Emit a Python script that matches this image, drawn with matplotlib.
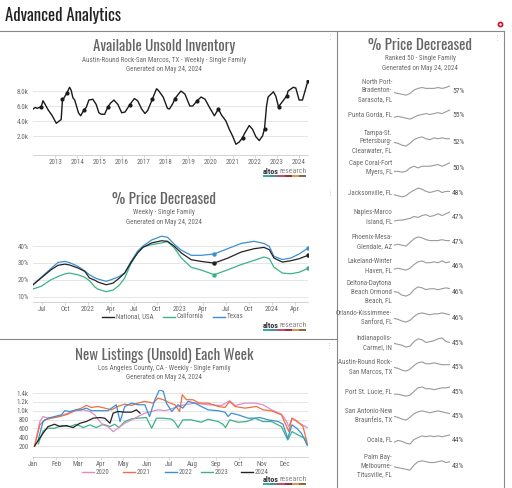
import matplotlib
matplotlib.use("Agg")
from matplotlib import pyplot as plt
from matplotlib.lines import Line2D
from matplotlib.patches import Rectangle

plt.rcParams['font.family'] = ['Roboto Condensed', 'DejaVu Sans']
TITLE_FONT = ['Oswald', 'DejaVu Sans']

# --- Available Unsold Inventory (Austin), thousands
INV_YEAR = [2012.0, 2012.1, 2012.2, 2012.37, 2012.45, 2012.55, 2012.7, 2012.85, 2013.05, 2013.27,
            2013.33, 2013.4, 2013.52, 2013.65, 2013.72, 2013.8, 2013.88, 2014.05, 2014.15, 2014.3,
            2014.4, 2014.52, 2014.7, 2014.85, 2014.97, 2015.08, 2015.23, 2015.38, 2015.5, 2015.65,
            2015.83, 2016.0, 2016.15, 2016.37, 2016.57, 2016.72, 2016.9, 2017.05, 2017.17, 2017.38,
            2017.57, 2017.65, 2017.87, 2018.06, 2018.15, 2018.3, 2018.4, 2018.67, 2018.85, 2019.07,
            2019.2, 2019.4, 2019.58, 2019.76, 2019.96, 2020.18, 2020.36, 2020.5, 2020.7, 2020.85,
            2021.0, 2021.15, 2021.3, 2021.45, 2021.55, 2021.75, 2021.9, 2022.05, 2022.2, 2022.35,
            2022.44, 2022.53, 2022.6, 2022.84, 2022.95, 2023.07, 2023.25, 2023.45, 2023.5, 2023.74,
            2023.85, 2024.0, 2024.15, 2024.4]
INV_K = [5.6, 5.8, 5.7, 5.9, 6.7, 6.2, 5.4, 4.8, 3.7, 4.2,
         6.9, 7.1, 7.7, 8.5, 8.1, 7.1, 6.8, 5.1, 4.7, 5.5,
         5.8, 6.8, 6.9, 6.2, 5.1, 4.9, 4.9, 5.9, 6.4, 6.8,
         6.2, 5.1, 5.2, 6.2, 7.0, 6.7, 5.6, 5.0, 5.4, 6.9,
         8.3, 8.1, 7.2, 5.7, 5.6, 6.3, 7.0, 8.0, 7.6, 6.0,
         6.0, 6.7, 7.2, 6.9, 5.8, 4.7, 5.6, 4.8, 4.0, 2.9,
         2.0, 0.9, 1.2, 1.8, 2.4, 3.4, 2.9, 1.9, 1.4, 2.0,
         3.0, 6.0, 7.2, 7.9, 7.3, 5.9, 6.6, 7.4, 8.0, 8.5,
         8.4, 6.8, 6.8, 9.4]
INV_DOT_YEAR = [2012.37, 2013.33, 2013.52, 2014.3, 2015.38, 2016.37, 2017.38, 2018.4, 2019.4,
                2020.36, 2021.45, 2022.44, 2023.07, 2023.45, 2024.4]
INV_DOT_K = [5.9, 6.9, 7.7, 5.5, 5.9, 6.2, 6.9, 7.0, 6.7, 5.6, 1.8, 3.0, 5.9, 7.4, 9.4]
INV_YEARS = list(range(2013, 2025))

# --- % Price Decreased (months since Jan 2021)
PD_MONTH = [4.83, 5.9, 7.2, 8.1, 9.0, 9.6, 10.7, 11.6, 12.2, 12.9, 13.3, 14.4, 15.3, 16.1, 16.8,
            17.6, 18.5, 19.2, 20.3, 21.6, 22.4, 23.3, 24.2, 25.5, 26.8, 28.5, 30.3, 32.0, 33.7,
            35.0, 35.7, 36.3, 37.4, 38.5, 39.6, 40.75]
PD_NATIONAL = [17.1, 21.1, 26.0, 28.6, 29.3, 28.8, 27.0, 25.0, 21.1, 19.8, 18.7, 17.1, 18.1, 21.0,
               24.0, 30.0, 35.9, 39.2, 41.8, 43.1, 42.8, 39.8, 35.9, 31.9, 30.9, 29.9, 32.9, 36.4,
               38.4, 39.2, 37.8, 32.9, 30.5, 31.3, 32.5, 34.5]
PD_TEXAS = [17.1, 21.5, 26.8, 30.3, 30.9, 30.2, 28.0, 25.2, 23.0, 21.2, 20.5, 19.1, 20.5, 22.0,
            24.0, 30.6, 37.0, 40.0, 43.5, 45.8, 45.2, 41.0, 37.5, 34.5, 34.5, 35.3, 38.5, 41.5,
            42.8, 41.5, 39.8, 33.9, 32.0, 32.9, 35.3, 38.8]
PD_CALIFORNIA = [14.6, 16.2, 20.1, 22.0, 23.5, 24.0, 23.0, 21.5, 19.5, 15.8, 14.5, 13.0, 14.0, 16.8,
                 21.0, 29.4, 36.5, 39.5, 40.8, 41.8, 42.6, 38.8, 32.9, 27.4, 25.8, 23.0, 26.0, 29.0,
                 31.5, 33.5, 32.5, 27.5, 24.0, 23.6, 24.5, 26.8]
PD_TICKS = [6, 9, 12, 15, 18, 21, 24, 27, 30, 33, 36, 39]
PD_TICKLABELS = ["Jul", "Oct", "2022", "Apr", "Jul", "Oct", "2023", "Apr", "Jul", "Oct", "2024", "Apr"]

# --- New Listings LA County (week of year)
NL_2020_WK = [0.3, 1.3, 1.9, 2.85, 4.1, 5.4, 6.6, 8.2, 9.5, 10.8, 11.7, 12.7, 13.3, 14.2, 15.2, 16.1,
              17.4, 18.7, 19.9, 21.2, 22.5, 23.7, 25.0, 26.3, 28.1, 30.7, 33.2, 35.7, 37.3, 38.3,
              40.2, 42.1, 43.6, 45.2, 47.1, 48.1, 48.5, 49.1, 50.0, 50.9, 52.0]
NL_2020 = [200, 754, 868, 830, 850, 890, 944, 1000, 1020, 980, 906, 754, 678, 640, 526, 602,
           716, 792, 868, 944, 982, 1020, 1000, 1043, 1119, 1172, 1134, 1119, 1225, 1119,
           1172, 1172, 1134, 1020, 921, 754, 640, 830, 754, 693, 617]
NL_2021_WK = [0.3, 1.3, 2.2, 3.5, 5.1, 6.6, 8.2, 9.2, 10.1, 11.1, 12.3, 13.6, 14.9, 16.1, 17.4, 18.7,
              19.9, 21.2, 22.8, 23.7, 24.7, 26.0, 26.9, 27.8, 28.3, 29.1, 30.3, 31.6, 33.2, 35.1,
              36.4, 37.3, 38.3, 40.2, 42.4, 43.6, 45.2, 47.1, 48.1, 48.5, 49.1, 50.0, 51.2, 52.0]
NL_2021 = [200, 678, 792, 830, 868, 921, 1020, 1058, 1119, 1073, 1096, 1058, 1020, 1096, 1149, 1119,
           1172, 1210, 1172, 1286, 1248, 1172, 1134, 982, 1362, 1248, 1248, 1172, 1172, 1096,
           1073, 1210, 1096, 1058, 1096, 1020, 997, 906, 640, 526, 830, 769, 640, 260]
NL_2022_WK = [0.9, 1.9, 2.85, 4.1, 5.4, 6.0, 7.0, 8.2, 9.2, 10.1, 11.1, 12.3, 14.2, 15.8, 16.5, 17.4,
              18.7, 19.9, 21.2, 22.1, 23.1, 24.0, 24.7, 25.3, 26.3, 27.5, 28.4, 29.4, 30.7, 31.9,
              33.2, 35.1, 36.4, 37.0, 37.6, 38.9, 40.8, 42.1, 43.0, 44.6, 46.5, 47.4, 48.3, 49.1,
              50.0, 50.9, 52.0]
NL_2022 = [300, 754, 830, 868, 906, 1000, 982, 1020, 1020, 1058, 1000, 1000, 1000, 1134, 754, 1096,
           1172, 1134, 1134, 868, 1248, 1476, 1438, 1172, 982, 1134, 1058, 1210, 1172, 1096,
           1020, 1000, 967, 868, 944, 906, 830, 830, 845, 792, 754, 693, 374, 678,
           602, 488, 222]
NL_2023_WK = [1.0, 1.9, 2.85, 4.1, 5.4, 7.0, 8.2, 9.5, 10.8, 12.0, 13.3, 14.6, 15.5, 16.3, 17.4, 18.7,
              19.9, 21.5, 22.5, 23.4, 24.7, 26.3, 26.9, 27.5, 28.4, 30.0, 31.9, 33.2, 35.1, 36.0,
              36.5, 37.3, 38.9, 40.5, 42.1, 43.6, 45.2, 47.1, 48.3, 49.1, 50.3, 51.5, 52.0]
NL_2023 = [250, 541, 602, 602, 663, 640, 693, 617, 678, 617, 693, 640, 693, 617, 754, 815,
           830, 845, 602, 830, 830, 807, 738, 617, 792, 792, 738, 807, 754, 693,
           617, 792, 738, 754, 830, 754, 754, 640, 336, 526, 450, 374, 222]
NL_2024_WK = [0.3, 1.9, 2.85, 4.1, 5.1, 6.3, 7.6, 8.9, 10.1, 11.4, 12.7, 13.6, 14.6, 15.2, 16.1,
              17.4, 18.7, 19.6, 20.3]
NL_2024 = [200, 488, 640, 693, 640, 663, 617, 716, 754, 830, 845, 830, 716, 944, 982,
           967, 967, 1020, 944]
NL_MONTH_START_DAY = [0, 31, 59, 90, 120, 151, 181, 212, 243, 273, 304, 334]
NL_MONTHS = ["Jan", "Feb", "Mar", "Apr", "May", "Jun", "Jul", "Aug", "Sep", "Oct", "Nov", "Dec"]

# --- Ranked list (right panel)
RANK_NAMES = ["North Port-\nBradenton-\nSarasota, FL", "Punta Gorda, FL",
              "Tampa-St.\nPetersburg-\nClearwater, FL", "Cape Coral-Fort\nMyers, FL",
              "Jacksonville, FL", "Naples-Marco\nIsland, FL", "Phoenix-Mesa-\nGlendale, AZ",
              "Lakeland-Winter\nHaven, FL", "Deltona-Daytona\nBeach Ormond\nBeach, FL",
              "Orlando-Kissimmee-\nSanford, FL", "Indianapolis-\nCarmel, IN",
              "Austin-Round Rock-\nSan Marcos, TX", "Port St. Lucie, FL",
              "San Antonio-New\nBraunfels, TX", "Ocala, FL", "Palm Bay-\nMelbourne-\nTitusville, FL"]
RANK_PCT = [57, 55, 52, 50, 48, 47, 47, 46, 46, 46, 45, 45, 45, 45, 44, 43]
SPARKS = [
    [3, 2, 1, 0, 2, 6, 8, 9, 8, 8, 8, 9, 8, 9, 11],
    [2, 3, 2, 1, 0, 2, 4, 5, 6, 5, 6, 7, 6, 8, 10],
    [4, 3, 1, 0, 3, 7, 9, 10, 8, 7, 9, 8, 9, 8, 8],
    [1, 1, 0, 1, 5, 7, 5, 7, 7, 7, 8, 9, 7, 9, 11],
    [5, 4, 3, 4, 7, 9, 11, 10, 8, 7, 8, 9, 7, 8, 8],
    [0, 1, 1, 2, 3, 5, 4, 6, 7, 5, 6, 8, 6, 8, 10],
    [3, 4, 3, 2, 6, 10, 12, 11, 9, 8, 8, 8, 9, 8, 8],
    [2, 3, 2, 1, 3, 7, 10, 11, 9, 9, 10, 9, 11, 9, 10],
    [6, 5, 2, 1, 3, 8, 11, 10, 8, 9, 9, 8, 9, 10, 9],
    [5, 4, 2, 1, 3, 7, 10, 11, 10, 9, 10, 10, 11, 10, 9],
    [5, 4, 3, 1, 2, 7, 10, 9, 6, 7, 8, 10, 11, 7, 6],
    [5, 4, 2, 1, 3, 7, 10, 11, 9, 9, 10, 9, 8, 8, 8],
    [3, 3, 2, 1, 2, 6, 10, 11, 9, 9, 8, 9, 10, 10, 11],
    [4, 3, 1, 0, 3, 7, 9, 10, 9, 8, 9, 10, 9, 8, 7],
    [3, 5, 4, 2, 1, 6, 8, 10, 9, 10, 9, 10, 9, 10, 11],
    [4, 3, 2, 1, 0, 6, 10, 11, 10, 9, 9, 10, 11, 9, 10],
]
RANK_ROW_Y = [91, 115, 142, 168, 193, 217, 242, 266, 292, 318, 343, 367, 392, 416, 440, 466]

W, H = 512, 488
fig = plt.figure(figsize=(W / 100, H / 100), dpi=100)

GRAY_TXT = "#6a6a6a"
TITLE_C = "#666666"


def fx(x):
    return x / W


def fy(y):
    return 1 - y / H


def add_ax(x0, y0, x1, y1):
    return fig.add_axes([x0 / W, 1 - y1 / H, (x1 - x0) / W, (y1 - y0) / H])


def hline(x0, x1, y, color="#888888", lw=0.8):
    fig.add_artist(Line2D([fx(x0), fx(x1)], [fy(y), fy(y)], color=color, lw=lw))


def vline(x, y0, y1, color="#888888", lw=0.8):
    fig.add_artist(Line2D([fx(x), fx(x)], [fy(y0), fy(y1)], color=color, lw=lw))


def style_ax(ax):
    for s in ["top", "right", "left"]:
        ax.spines[s].set_visible(False)
    ax.spines["bottom"].set_color("#cccccc")
    ax.spines["bottom"].set_linewidth(0.6)
    ax.grid(axis="y", color="#e2e2e2", lw=0.6)
    ax.set_axisbelow(True)
    ax.tick_params(axis="y", length=0, labelsize=5, labelcolor=GRAY_TXT, pad=3)
    ax.tick_params(axis="x", length=2, width=0.5, color="#cccccc", labelsize=5,
                   labelcolor=GRAY_TXT, pad=1)
    ax.set_facecolor("none")


def titles(cx, y, title, sub1, sub2):
    fig.text(fx(cx), fy(y), title, ha="center", va="center", fontsize=10.8, color=TITLE_C,
             family=TITLE_FONT, fontweight=300)
    fig.text(fx(cx), fy(y + 13), sub1, ha="center", va="center", fontsize=5, color=GRAY_TXT)
    fig.text(fx(cx), fy(y + 22.5), sub2, ha="center", va="center", fontsize=5, color=GRAY_TXT)


def logo(x1, y):
    fig.text(fx(x1 - 43), fy(y), "altos", ha="left", va="center", fontsize=5.8,
             fontweight="bold", color="#333333")
    fig.text(fx(x1 - 26), fy(y), "research", ha="left", va="center", fontsize=5.8, color="#888888")
    cols = ["#2fb3a0", "#4a8f9a", "#c2505e", "#9c2f3f", "#d49a50", "#8b6a3e"]
    seg = 43 / len(cols)
    for i, c in enumerate(cols):
        fig.add_artist(Rectangle((fx(x1 - 43 + i * seg), fy(y + 5.5)), seg / W, 1.6 / H,
                                 color=c, lw=0))


def legend_item(x, y, color, label):
    fig.add_artist(Line2D([fx(x), fx(x + 12)], [fy(y), fy(y)], color=color, lw=1))
    fig.text(fx(x + 14), fy(y), label, ha="left", va="center", fontsize=5, color=GRAY_TXT)


# header
fig.text(fx(5), fy(15), "Advanced Analytics", ha="left", va="center", fontsize=12,
         color="#222222", family=TITLE_FONT)
fig.add_artist(Line2D([fx(500)], [fy(24)], marker="o", ms=3, mfc="white", mec="#c8102e", mew=1.2))
hline(0, 504, 31)
vline(337, 31, 488)
vline(504, 31, 488)
hline(0, 337, 339)
for (dx, dy) in [(330, 36), (497, 37), (330, 192), (329, 345)]:
    fig.text(fx(dx), fy(dy), "\u22ee", ha="center", va="center", fontsize=5,
             color="#bbbbbb", family="DejaVu Sans")

# chart 1
titles(164, 47, "Available Unsold Inventory",
       "Austin-Round Rock-San Marcos, TX - Weekly - Single Family", "Generated on May 24, 2024")
ax1 = add_ax(33, 80, 308, 155)
style_ax(ax1)
ax1.plot(INV_YEAR, INV_K, color="#1a1a1a", lw=1)
ax1.plot(INV_DOT_YEAR, INV_DOT_K, "o", color="#1a1a1a", ms=2)
ax1.set_xlim(2012.0, 2024.4)
ax1.set_ylim(-0.53, 9.47)
ax1.set_yticks([2, 4, 6, 8])
ax1.set_yticklabels(["2.0k", "4.0k", "6.0k", "8.0k"])
ax1.set_xticks(INV_YEARS)
ax1.set_xticklabels([str(y) for y in INV_YEARS])
logo(306, 171)

# chart 2
titles(164, 200, "% Price Decreased", "Weekly - Single Family", "Generated on May 24, 2024")
ax2 = add_ax(33, 233, 308, 302)
style_ax(ax2)
ax2.plot(PD_MONTH, PD_CALIFORNIA, color="#3bb384", lw=0.9)
ax2.plot(PD_MONTH, PD_TEXAS, color="#3d8fd1", lw=0.9)
ax2.plot(PD_MONTH, PD_NATIONAL, color="#222222", lw=0.9)
for ser, c in [(PD_CALIFORNIA, "#3bb384"), (PD_TEXAS, "#3d8fd1"), (PD_NATIONAL, "#222222")]:
    ax2.plot([PD_MONTH[25], PD_MONTH[-1]], [ser[25], ser[-1]], "o", color=c, ms=2.2)
ax2.set_xlim(4.83, 40.75)
ax2.set_ylim(6.9, 47.7)
ax2.set_yticks([10, 20, 30, 40])
ax2.set_yticklabels(["10%", "20%", "30%", "40%"])
ax2.set_xticks(PD_TICKS)
ax2.set_xticklabels(PD_TICKLABELS)
legend_item(102, 317, "#222222", "National, USA")
legend_item(163, 317, "#3bb384", "California")
legend_item(213, 317, "#3d8fd1", "Texas")
logo(306, 325)

# chart 3
titles(164, 355, "New Listings (Unsold) Each Week",
       "Los Angeles County, CA - Weekly - Single Family", "Generated on May 24, 2024")
ax3 = add_ax(33, 389.5, 308, 457)
style_ax(ax3)
ax3.plot(NL_2023_WK, NL_2023, color="#3bb384", lw=0.9)
ax3.plot(NL_2020_WK, NL_2020, color="#e08cc8", lw=0.9)
ax3.plot(NL_2021_WK, NL_2021, color="#ef6f3e", lw=0.9)
ax3.plot(NL_2022_WK, NL_2022, color="#3d8fd1", lw=0.9)
ax3.plot(NL_2024_WK, NL_2024, color="#222222", lw=0.9)
ax3.set_xlim(0, 365 / 7)
ax3.set_ylim(-49, 1480)
ax3.set_yticks([200, 400, 600, 800, 1000, 1200, 1400])
ax3.set_yticklabels(["200", "400", "600", "800", "1.0k", "1.2k", "1.4k"])
ax3.set_xticks([d / 7 for d in NL_MONTH_START_DAY])
ax3.set_xticklabels(NL_MONTHS)
legend_item(82, 472, "#e08cc8", "2020")
legend_item(123, 472, "#ef6f3e", "2021")
legend_item(165, 472, "#3d8fd1", "2022")
legend_item(201, 472, "#3bb384", "2023")
legend_item(241, 472, "#222222", "2024")
logo(306, 479)

# right panel
titles(420, 46, "% Price Decreased", "Ranked 50 - Single Family", "Generated on May 24, 2024")
for name, pct, sp, ry in zip(RANK_NAMES, RANK_PCT, SPARKS, RANK_ROW_Y):
    fig.text(fx(392), fy(ry), name, ha="right", va="center", multialignment="right",
             fontsize=5, color=GRAY_TXT, linespacing=1.3)
    sax = add_ax(394, ry - 6, 450, ry + 5)
    sax.plot(range(len(sp)), sp, color="#9a9a9a", lw=0.8)
    sax.set_ylim(min(sp) - 1, max(sp) + 1)
    sax.set_xlim(0, len(sp) - 1)
    sax.axis("off")
    fig.text(fx(452), fy(ry), f"{pct}%", ha="left", va="center", fontsize=5.5, color="#555555")

fig.savefig("out.png", dpi=100)
